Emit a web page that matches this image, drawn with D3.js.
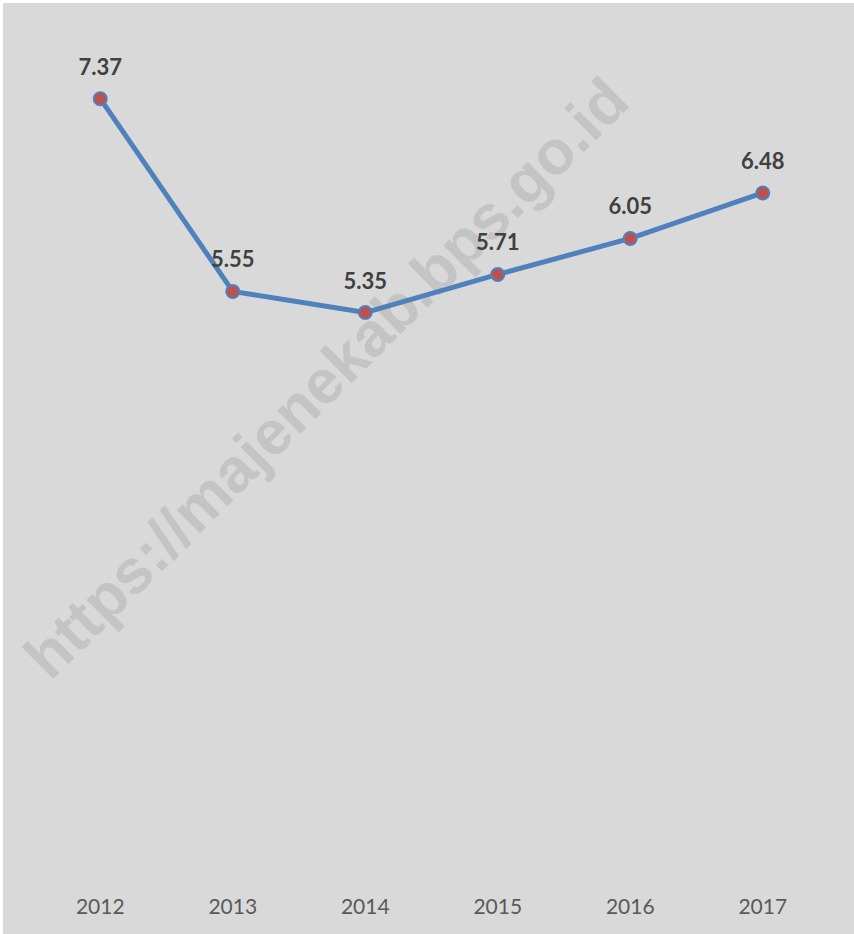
<!DOCTYPE html>
<html><head><meta charset="utf-8">
<script src="https://cdn.jsdelivr.net/npm/d3@7"></script>
<style>html,body{margin:0;padding:0;background:#fff;}svg{display:block;}</style>
</head><body>
<svg id="chart" width="854" height="934"></svg>
<script>
const years = ["2012","2013","2014","2015","2016","2017"];
const values = [7.37, 5.55, 5.35, 5.71, 6.05, 6.48];
const labels = ["7.37","5.55","5.35","5.71","6.05","6.48"];
const watermark = "https://majenekab.bps.go.id";

const W = 854, H = 934;
const svg = d3.select("#chart");
svg.append("rect").attr("x",3).attr("y",3).attr("width",W-3).attr("height",H-3).attr("fill","#d9d9d9");

const plot = {left:34, right:829, top:32, bottom:879};
const x = d3.scaleBand().domain(years).range([plot.left, plot.right]);
const y = d3.scaleLinear().domain([0,8]).range([plot.bottom, plot.top]);

// watermark
svg.append("text")
  .attr("transform","translate(326,378) rotate(-44.8)")
  .attr("text-anchor","middle")
  .attr("dominant-baseline","central")
  .attr("font-family","Liberation Sans, Arial, sans-serif")
  .attr("font-weight","bold")
  .attr("font-size",62)
  .attr("fill","#c4c4c4")
  .text(watermark);

// x axis
const xAxis = d3.axisBottom(x).tickSize(0).tickPadding(20);
const gx = svg.append("g").attr("transform",`translate(0,${plot.bottom})`).call(xAxis);
gx.select(".domain").remove();
gx.selectAll("text").attr("font-family","Lato, sans-serif").attr("font-size",21).attr("fill","#595959");

const cx = d => x(d) + x.bandwidth()/2;
const line = d3.line().x((d,i)=>cx(years[i])).y(d=>y(d));
svg.append("path").datum(values).attr("d",line).attr("fill","none")
  .attr("stroke","#4f81bd").attr("stroke-width",5).attr("stroke-linejoin","round");

svg.selectAll("circle.pt").data(values).enter().append("circle")
  .attr("cx",(d,i)=>cx(years[i])).attr("cy",d=>y(d)).attr("r",6.5)
  .attr("fill","#c0504d").attr("stroke","#4f81bd").attr("stroke-width",2);

svg.selectAll("text.lbl").data(values).enter().append("text")
  .attr("x",(d,i)=>cx(years[i])).attr("y",d=>y(d)-24)
  .attr("text-anchor","middle")
  .attr("font-family","Lato, sans-serif").attr("font-weight","bold").attr("font-size",22)
  .attr("fill","#404040")
  .text((d,i)=>labels[i]);
</script>
</body></html>
